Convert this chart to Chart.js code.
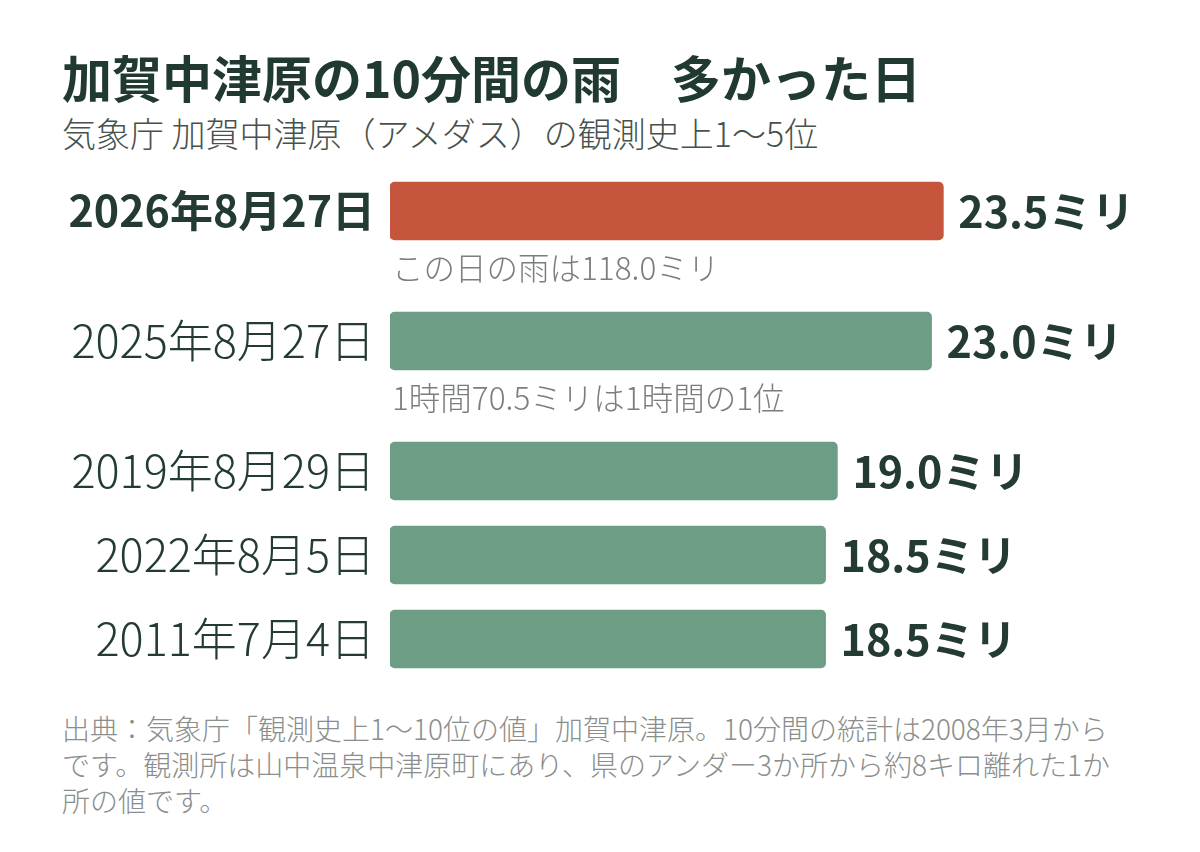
<!DOCTYPE html>
<html lang="ja">
<head>
<meta charset="utf-8">
<script src="https://cdn.jsdelivr.net/npm/chart.js@4.4.1/dist/chart.umd.min.js"></script>
<style>
  body { margin: 0; background: #fff; font-family: "Noto Sans CJK JP", sans-serif; }
  .wrap { position: relative; width: 1200px; height: 852px; overflow: hidden; }
  .title { position: absolute; left: 62px; top: 51px; font-size: 50px; line-height: 50px; font-weight: 700; color: #213a31; white-space: pre; }
  .subtitle { position: absolute; left: 62px; top: 116px; font-size: 34px; line-height: 34px; font-weight: 300; color: #47524d; white-space: pre; }
  .source { position: absolute; left: 62px; top: 710px; font-size: 28px; line-height: 36px; font-weight: 300; color: #8a8e8c; white-space: nowrap; }
  #chart { position: absolute; left: 0; top: 170px; }
</style>
</head>
<body>
<div class="wrap">
  <div class="title">加賀中津原の10分間の雨　多かった日</div>
  <div class="subtitle">気象庁 加賀中津原（アメダス）の観測史上1〜5位</div>
  <canvas id="chart" width="1200" height="520" style="width:1200px;height:520px"></canvas>
  <div class="source">出典：気象庁「観測史上1〜10位の値」加賀中津原。10分間の統計は2008年3月から<br>です。観測所は山中温泉中津原町にあり、県のアンダー3か所から約8キロ離れた1か<br>所の値です。</div>
</div>
<script>
const dates = [`2026年8月27日`, `2025年8月27日`, `2019年8月29日`, `2022年8月5日`, `2011年7月4日`];
const rainfall = [23.5, 23.0, 19.0, 18.5, 18.5];
const notes = [`この日の雨は118.0ミリ`, `1時間70.5ミリは1時間の1位`, ``, ``, ``];
const unit = `ミリ`;
const highlight = 0;

const ink = `#233b33`;
const ROW = 84;       // row pitch without a note
const NOTE_GAP = 46;  // extra room under a bar that carries a note
const FIRST = 41;

// vertical slot of each row, in pixels from the canvas top
const rowPos = [];
let cursor = FIRST;
dates.forEach((d, i) => {
  rowPos.push(cursor);
  cursor += ROW + (notes[i] ? NOTE_GAP : 0);
});

const barLabels = {
  id: `barLabels`,
  afterDatasetsDraw(chart) {
    const ctx = chart.ctx;
    const yScale = chart.scales.y;
    const bars = chart.getDatasetMeta(0).data;
    ctx.save();
    ctx.textBaseline = `middle`;

    // date labels, placed through the y scale
    ctx.textAlign = `right`;
    ctx.fillStyle = ink;
    dates.forEach((d, i) => {
      ctx.font = i === highlight
        ? `bold 43px "Noto Sans CJK JP", sans-serif`
        : `300 45px "Noto Sans CJK JP", sans-serif`;
      ctx.fillText(d, yScale.right - 15, yScale.getPixelForValue(rowPos[i]));
    });

    ctx.textAlign = `left`;
    bars.forEach((bar, i) => {
      ctx.fillStyle = ink;
      ctx.font = `bold 43px "Noto Sans CJK JP", sans-serif`;
      ctx.fillText(rainfall[i].toFixed(1) + unit, bar.x + 15, bar.y + 1);
      if (notes[i]) {
        ctx.fillStyle = `#7a7f7d`;
        ctx.font = `300 31.5px "Noto Sans CJK JP", sans-serif`;
        ctx.fillText(notes[i], chart.chartArea.left + 2, bar.y + 57);
      }
    });
    ctx.restore();
  }
};

Chart.defaults.font.family = `"Noto Sans CJK JP", sans-serif`;

// eslint-disable-next-line no-unused-vars
const rainChart = new Chart(document.getElementById(`chart`), {
  type: `bar`,
  data: {
    datasets: [{
      data: rainfall.map((v, i) => ({x: v, y: rowPos[i]})),
      backgroundColor: rainfall.map((v, i) => i === highlight ? `#c5553d` : `#6d9e85`),
      barThickness: 58,
      borderRadius: 5,
      borderSkipped: false
    }]
  },
  options: {
    indexAxis: `y`,
    responsive: false,
    animation: false,
    layout: {padding: 0, autoPadding: false},
    plugins: {
      legend: {display: false},
      tooltip: {enabled: false}
    },
    scales: {
      x: {display: false, min: 0, max: 34.4},
      y: {
        type: `linear`,
        reverse: true,
        offset: false,
        min: 0,
        max: 520,
        grid: {display: false, drawTicks: false},
        border: {display: false},
        ticks: {display: false},
        afterFit: (scale) => {
          scale.width = 390;
          scale.paddingTop = 0;
          scale.paddingBottom = 0;
        }
      }
    }
  },
  plugins: [barLabels]
});
</script>
</body>
</html>
